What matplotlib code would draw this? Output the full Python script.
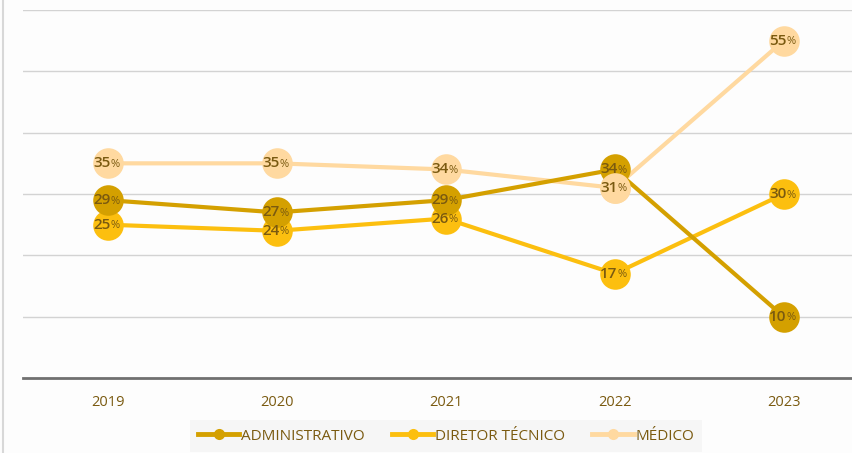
import matplotlib
matplotlib.use("Agg")
import matplotlib.pyplot as plt
from matplotlib.lines import Line2D

years = ["2019", "2020", "2021", "2022", "2023"]
administrativo = [29, 27, 29, 34, 10]
diretor_tecnico = [25, 24, 26, 17, 30]
medico = [35, 35, 34, 31, 55]
series_names = ["ADMINISTRATIVO", "DIRETOR TÉCNICO", "MÉDICO"]

colors = ["#d4a000", "#fcbf0f", "#ffd9a0"]
text_color = "#7a5a10"

plt.rcParams['font.family'] = ['Open Sans', 'DejaVu Sans']

fig = plt.figure(figsize=(8.53, 4.53), dpi=100)
fig.patch.set_facecolor("#fdfdfd")
ax = fig.add_axes([23/853, 1-378/453, 1-23/853, (378-10)/453])
ax.set_facecolor("#fdfdfd")

x = list(range(len(years)))
data = [administrativo, diretor_tecnico, medico]
zs = {0: 3, 1: 2, 2: 1}
for i in [2, 1, 0]:
    ax.plot(x, data[i], color=colors[i], lw=3, marker='o', ms=22,
            markeredgewidth=0, zorder=zs[i], label=series_names[i],
            solid_capstyle='round')

ax.plot([3], [medico[3]], 'o', color=colors[2], ms=22, mew=0, zorder=3.5)

for i, vals in enumerate(data):
    for xi, v in zip(x, vals):
        ax.annotate(f"{v}", (xi, v), xytext=(2, 0), textcoords='offset points',
                    ha='right', va='center', fontsize=11, color=text_color,
                    fontweight='semibold', zorder=5)
        ax.annotate("%", (xi, v), xytext=(2, -0.8), textcoords='offset points',
                    ha='left', va='center', fontsize=8, color=text_color,
                    zorder=5)

ax.set_ylim(0, 60)
ax.set_xlim(-0.5, 4.41)
ax.set_yticks([10, 20, 30, 40, 50, 60])
ax.yaxis.grid(True, color="#d3d3d3", lw=1)
ax.set_axisbelow(True)
ax.tick_params(axis='y', left=False, labelleft=False)
ax.set_xticks(x)
ax.set_xticklabels(years, color=text_color, fontsize=10.5)
ax.tick_params(axis='x', length=0, pad=12)
for s in ['top', 'right', 'left']:
    ax.spines[s].set_visible(False)
ax.spines['bottom'].set_color("#707070")
ax.spines['bottom'].set_linewidth(2)

handles = [Line2D([0], [0], color=colors[i], lw=3.5, marker='o', ms=8, mew=0)
           for i in range(3)]
leg = fig.legend(handles, series_names, loc='center', bbox_to_anchor=(446/853, 1-436/453),
                 ncol=3, frameon=True, fontsize=11, handlelength=2.7,
                 handletextpad=0.1, columnspacing=1.8, borderpad=0.55)
leg.get_frame().set_facecolor("#f5f5f5")
leg.get_frame().set_edgecolor("none")
leg.get_frame().set_boxstyle("square", pad=0)
for t in leg.get_texts():
    t.set_color(text_color)

fig.add_artist(Line2D([3/853, 3/853], [0, 1], color="#d8d8d8", lw=1.5,
                      transform=fig.transFigure))

fig.savefig("out.png", dpi=100, facecolor=fig.get_facecolor())
